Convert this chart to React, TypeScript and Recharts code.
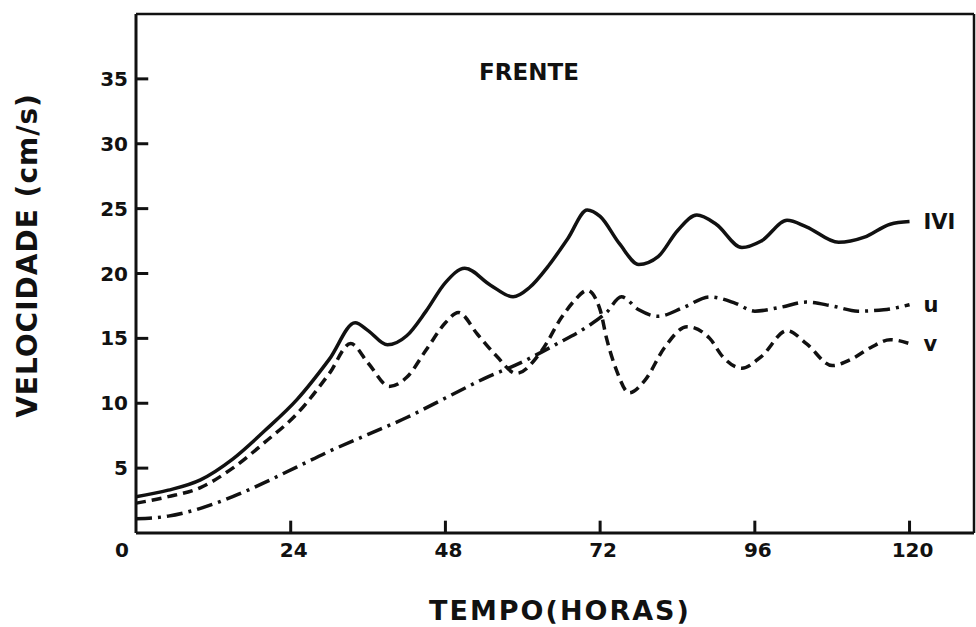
import { LineChart, Line, XAxis, YAxis, Label, ReferenceLine } from "recharts";

// |V| (solid)
const magHours = [0, 5, 10, 15, 20, 25, 30, 34, 36, 39, 42, 45, 48, 51, 55, 58.5, 61, 64, 67, 70, 72, 75, 78, 81, 84, 87, 90, 94, 97, 101, 104, 109, 113, 117, 120];
const magValues = [2.8, 3.3, 4.1, 5.7, 7.9, 10.3, 13.4, 16.2, 15.6, 14.5, 15.2, 17.1, 19.3, 20.4, 19.1, 18.2, 18.9, 20.6, 22.7, 24.9, 24.4, 22.3, 20.7, 21.3, 23.3, 24.5, 23.8, 22.0, 22.5, 24.1, 23.6, 22.4, 22.8, 23.8, 24.0];

// u (dash-dot)
const uHours = [0, 5, 10, 15, 20, 25, 30, 36, 42, 48, 54, 60, 65, 70, 73, 75.3, 78, 81, 85, 89, 93, 96, 100, 104, 108, 112, 116, 120];
const uValues = [1.1, 1.3, 1.9, 2.8, 3.9, 5.1, 6.3, 7.6, 8.9, 10.4, 11.9, 13.2, 14.5, 15.9, 17.0, 18.2, 17.2, 16.7, 17.4, 18.2, 17.7, 17.1, 17.4, 17.8, 17.5, 17.1, 17.2, 17.6];

// v (dashed)
const vHours = [0, 5, 10, 15, 20, 25, 30, 33.3, 36, 39.3, 42, 45, 48, 50, 53, 56, 59, 63, 66, 68, 70, 72, 73, 74.5, 76.5, 79, 82, 85.5, 89, 91, 94, 97, 101, 104, 108, 111, 114, 117, 120];
const vValues = [2.3, 2.8, 3.5, 5.0, 7.0, 9.2, 12.3, 14.6, 13.1, 11.3, 12.0, 14.1, 16.2, 17.0, 15.3, 13.6, 12.3, 14.1, 16.6, 17.9, 18.7, 17.2, 15.0, 12.6, 10.8, 11.8, 14.3, 15.9, 15.0, 13.6, 12.7, 13.6, 15.6, 14.6, 12.9, 13.4, 14.3, 14.9, 14.6];

const xTicks = [0, 24, 48, 72, 96, 120];
const yTicks = [5, 10, 15, 20, 25, 30, 35];

const magData = magHours.map((h, i) => ({ h, val: magValues[i] }));
const uData = uHours.map((h, i) => ({ h, val: uValues[i] }));
const vData = vHours.map((h, i) => ({ h, val: vValues[i] }));

const INK = "#111";
const FONT = "'DejaVu Sans', sans-serif";
// inward tick marks, length in axis units (~12px)
const X_TICK_LEN = 0.95;
const Y_TICK_LEN = 1.9;

function YTick(props: any) {
  const { x, y, payload } = props;
  return (
    <text x={x} y={y} textAnchor="end" dominantBaseline="central" fontFamily={FONT} fontWeight="bold" fontSize={20} fill={INK}>
      {payload.value}
    </text>
  );
}

function XTick(props: any) {
  const { x, y, payload } = props;
  const isZero = payload.value === 0;
  return (
    <text x={isZero ? x - 14 : x + 3} y={y + 17} textAnchor="middle" dominantBaseline="central" fontFamily={FONT} fontWeight="bold" fontSize={20} fill={INK}>
      {payload.value}
    </text>
  );
}

function endLabel(text: string, count: number) {
  return (p: any) =>
    p.index === count - 1 ? (
      <text x={p.x + 14} y={p.y} dominantBaseline="central" fontFamily={FONT} fontWeight="bold" fontSize={21} fill={INK}>
        {text}
      </text>
    ) : null;
}

export default function App() {
  return (
    <div style={{ position: "absolute", left: 0, top: 0, width: 976, height: 627, background: "#fff" }}>
      <LineChart width={976} height={627} margin={{ top: 14, right: 0, left: 0, bottom: 0 }}>
        <XAxis
          dataKey="h"
          type="number"
          domain={[0, 130]}
          ticks={xTicks}
          height={94}
          tickSize={0}
          tickMargin={0}
          tickLine={false}
          tick={<XTick />}
          axisLine={{ stroke: INK, strokeWidth: 3 }}
          allowDuplicatedCategory={false}
        >
          <Label
            content={(p: any) => {
              const vb = p.viewBox || { x: 136, y: 533, width: 838 };
              return (
                <text x={vb.x + vb.width / 2 + 5} y={vb.y + 77} textAnchor="middle" dominantBaseline="central" fontFamily={FONT} fontWeight="bold" fontSize={27} letterSpacing={2} fill={INK}>
                  TEMPO(HORAS)
                </text>
              );
            }}
          />
        </XAxis>
        <YAxis
          type="number"
          domain={[0, 40]}
          ticks={yTicks}
          width={136}
          tickSize={0}
          tickMargin={8}
          tickLine={false}
          tick={<YTick />}
          axisLine={{ stroke: INK, strokeWidth: 3 }}
        >
          <Label
            content={(p: any) => {
              const vb = p.viewBox || { x: 0, y: 14, height: 519 };
              const cx = 27;
              const cy = vb.y + vb.height / 2 - 18;
              return (
                <text x={cx} y={cy} transform={`rotate(-90, ${cx}, ${cy})`} textAnchor="middle" dominantBaseline="central" fontFamily={FONT} fontWeight="bold" fontSize={28} letterSpacing={1} fill={INK}>
                  VELOCIDADE (cm/s)
                </text>
              );
            }}
          />
          <Label
            content={(p: any) => {
              const vb = p.viewBox || { x: 0, y: 14, width: 136 };
              return (
                <text x={vb.x + vb.width + 393} y={vb.y + 58} textAnchor="middle" dominantBaseline="central" fontFamily={FONT} fontWeight="bold" fontSize={23} fill={INK}>
                  FRENTE
                </text>
              );
            }}
          />
        </YAxis>
        <YAxis yAxisId="right" orientation="right" type="number" domain={[0, 40]} width={2} tick={false} tickLine={false} axisLine={{ stroke: INK, strokeWidth: 2.5 }} />
        <ReferenceLine y={40} stroke={INK} strokeWidth={2.5} />
        {yTicks.map((t) => (
          <ReferenceLine key={`yt${t}`} segment={[{ x: 0, y: t }, { x: Y_TICK_LEN, y: t }]} stroke={INK} strokeWidth={3} ifOverflow="visible" />
        ))}
        {xTicks.filter((t) => t > 0).map((t) => (
          <ReferenceLine key={`xt${t}`} segment={[{ x: t, y: 0 }, { x: t, y: X_TICK_LEN }]} stroke={INK} strokeWidth={3} ifOverflow="visible" />
        ))}
        <Line
          data={magData}
          dataKey="val"
          type="monotone"
          stroke={INK}
          strokeWidth={3.5}
          dot={false}
          isAnimationActive={false}
          label={endLabel("IVI", magData.length)}
        />
        <Line
          data={uData}
          dataKey="val"
          type="monotone"
          stroke={INK}
          strokeWidth={3.5}
          strokeDasharray="16 6 3 6"
          dot={false}
          isAnimationActive={false}
          label={endLabel("u", uData.length)}
        />
        <Line
          data={vData}
          dataKey="val"
          type="monotone"
          stroke={INK}
          strokeWidth={3.5}
          strokeDasharray="10 6"
          dot={false}
          isAnimationActive={false}
          label={endLabel("v", vData.length)}
        />
      </LineChart>
    </div>
  );
}
